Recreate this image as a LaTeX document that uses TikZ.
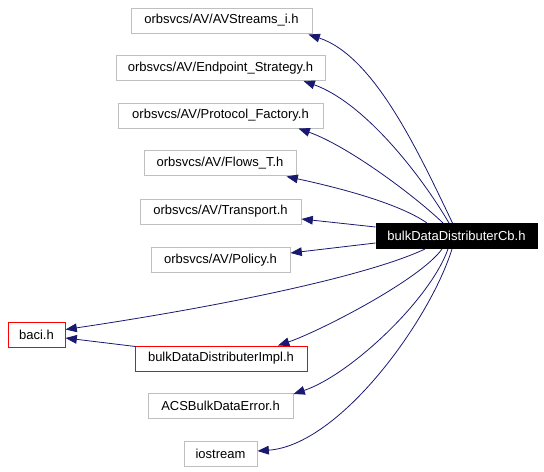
\documentclass[tikz,border=0pt]{standalone}
\usepackage{fontspec}
\setmainfont{Liberation Sans}
\definecolor{edgeblue}{HTML}{191970}
\definecolor{boxgrey}{HTML}{BFBFBF}
\definecolor{boxred}{HTML}{FF0000}
\usetikzlibrary{calc, arrows.meta}

\begin{document}
\begin{tikzpicture}[x=0.75pt, y=-0.75pt,
  file/.style={draw=boxgrey, line width=0.75pt, inner sep=0pt, minimum height=18.75pt, font=\fontsize{9.75}{12}\selectfont},
  redfile/.style={file, draw=boxred},
  dep/.style={edgeblue, line width=0.6pt, -{Triangle[length=8.5pt, width=6.5pt]}}]
  \useasboundingbox (0,0) rectangle (544,472);

  \node[file, minimum width=135.75pt] (avs) at (221.5,20.5) {orbsvcs/AV/AVStreams\_i.h};
  \node[file, minimum width=156.75pt] (ep) at (220.5,68) {orbsvcs/AV/Endpoint\_Strategy.h};
  \node[file, minimum width=153.75pt] (pf) at (220.5,115.5) {orbsvcs/AV/Protocol\_Factory.h};
  \node[file, minimum width=114pt] (flows) at (220,163) {orbsvcs/AV/Flows\_T.h};
  \node[file, minimum width=120.75pt] (tr) at (220.5,211.5) {orbsvcs/AV/Transport.h};
  \node[file, minimum width=104.25pt] (pol) at (220.5,260) {orbsvcs/AV/Policy.h};
  \node[redfile, minimum width=42.75pt] (baci) at (36.5,334.5) {baci.h};
  \node[redfile, minimum width=129pt] (impl) at (221,358.5) {bulkDataDistributerImpl.h};
  \node[file, minimum width=108.75pt] (acs) at (220.5,406) {ACSBulkDataError.h};
  \node[file, minimum width=54.75pt] (ios) at (220.5,454) {iostream};
  \node[file, draw=black, fill=black, text=white, minimum width=120.75pt] (cb) at (456.5,236) {bulkDataDistributerCb.h};

  \draw[dep] ($(cb.north)+(-4,0)$) .. controls (418,151) and (374,56) .. ($(avs.south east)+(-4,1)$);
  \draw[dep] ($(cb.north)+(-7.5,0)$) .. controls (419,172) and (363,102) .. ($(ep.south east)+(-22,0)$);
  \draw[dep] ($(cb.north)+(-13.5,0)$) .. controls (415,196) and (348,146) .. ($(pf.south east)+(-25,0)$);
  \draw[dep] ($(cb.north)+(-29.5,0)$) .. controls (397,202) and (331,186) .. ($(flows.south east)+(-10,0.5)$);
  \draw[dep] ($(cb.west)+(0,-9)$) -- ($(tr.east)+(0,7.5)$);
  \draw[dep] ($(cb.west)+(0,7)$) -- ($(pol.east)+(0,-7)$);
  \draw[dep] ($(cb.south)+(-31.5,0)$) .. controls (370,275) and (230,305) .. ($(baci.east)+(0,-5)$);
  \draw[dep] ($(cb.south)+(-14.5,0)$) .. controls (420,280) and (318,332) .. ($(impl.north)+(57,0)$);
  \draw[dep] ($(cb.south)+(-8.5,0)$) .. controls (430,300) and (350,375) .. ($(acs.north east)+(0,1)$);
  \draw[dep] ($(cb.south)+(-4.5,0)$) .. controls (430,320) and (340,445) .. ($(ios.east)+(0,-3)$);
  \draw[dep] ($(impl.north west)+(1,1)$) -- ($(baci.east)+(0,3.5)$);
\end{tikzpicture}
\end{document}
